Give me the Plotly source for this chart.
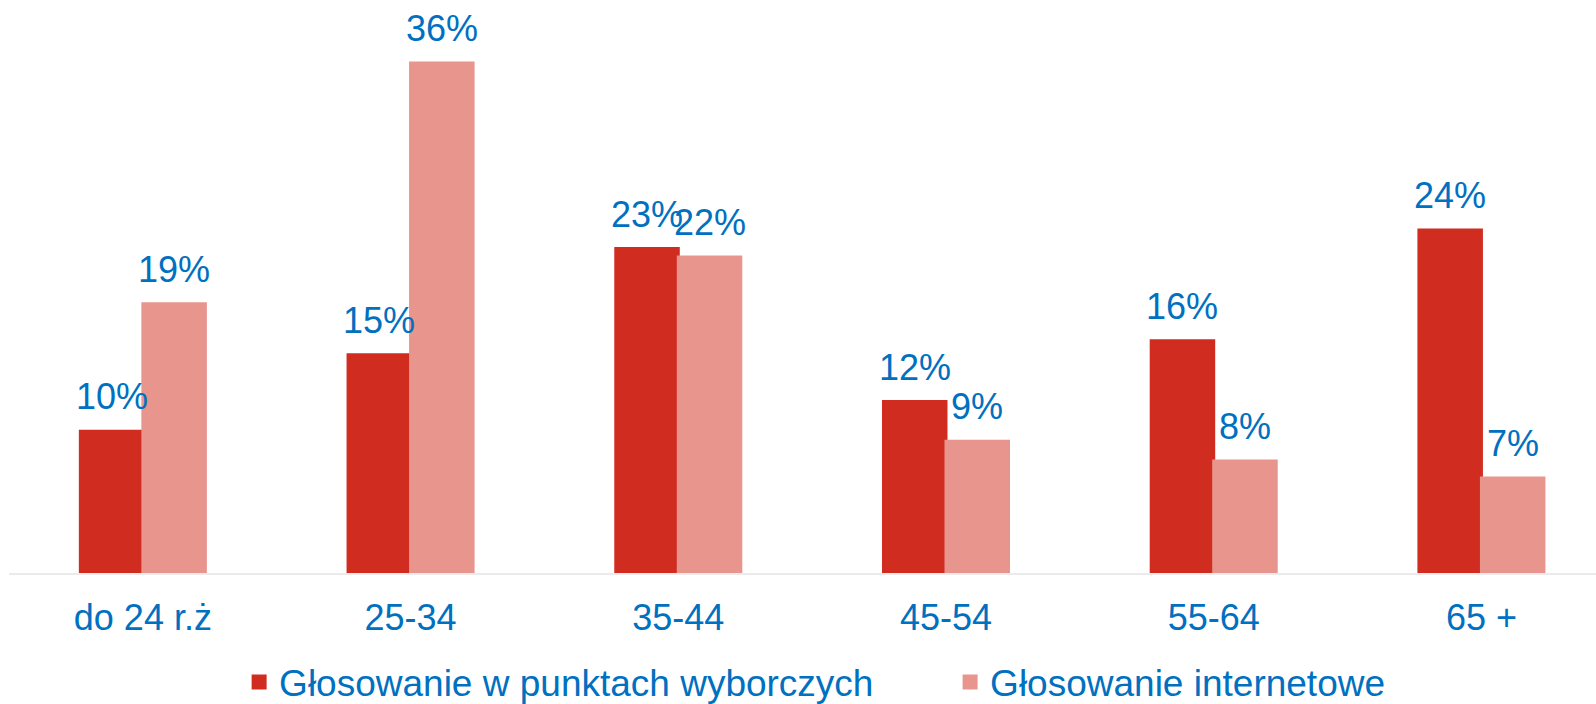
import plotly.graph_objects as go

categories = ["do 24 r.ż", "25-34", "35-44", "45-54", "55-64", "65 +"]
punkty = [10.0, 15.4, 22.9, 12.1, 16.4, 24.2]
internet = [19.0, 36.0, 22.3, 9.3, 7.9, 6.7]
series_names = ["Głosowanie w punktach wyborczych", "Głosowanie internetowe"]

RED = "#D02C1F"
PINK = "#E8958E"
BLUE = "#0070C0"
FONT = "Liberation Sans, Arial, sans-serif"
FS = 36
BARGAP = 0.533
LW = 3

fig = go.Figure()
series = [(series_names[0], punkty, RED), (series_names[1], internet, PINK)]
for name, vals, col in series:
    fig.add_trace(go.Bar(
        x=categories, y=vals, name=name,
        marker=dict(color=col, line=dict(width=LW, color=col)),
        hoverinfo="skip",
    ))

# value labels above bars, positioned by the category axis (group offset = half a bar slot)
half = (1 - BARGAP) / 4
for k, (name, vals, col) in enumerate(series):
    off = -half if k == 0 else half
    for i, v in enumerate(vals):
        fig.add_annotation(x=i + off, y=v, xref="x", yref="y", text=f"{round(v):d}%",
                           showarrow=False, yanchor="bottom", xanchor="center", yshift=12,
                           font=dict(family=FONT, size=FS, color=BLUE))

fig.update_layout(
    width=1596, height=704,
    margin=dict(l=9, r=0, t=0, b=131, autoexpand=False),
    paper_bgcolor="white", plot_bgcolor="white",
    barmode="group", bargap=BARGAP, bargroupgap=0,
    font=dict(family=FONT, size=FS, color=BLUE),
    showlegend=True,
    legend=dict(orientation="h", x=0.145, xanchor="left", y=-0.137, yanchor="top",
                font=dict(family=FONT, size=37, color=BLUE),
                entrywidth=666, entrywidthmode="pixels", traceorder="normal"),
    xaxis=dict(range=[-0.5, 5.428], showgrid=False, showline=True, linecolor="#EBEBEB",
               linewidth=2, ticks="", ticklabelstandoff=12,
               tickfont=dict(family=FONT, size=FS, color=BLUE)),
    yaxis=dict(range=[0, 40.44], visible=False),
)

fig.write_html("out.html", config={"displayModeBar": False},
               post_script="document.body.style.margin='0';document.body.style.overflow='hidden';")
